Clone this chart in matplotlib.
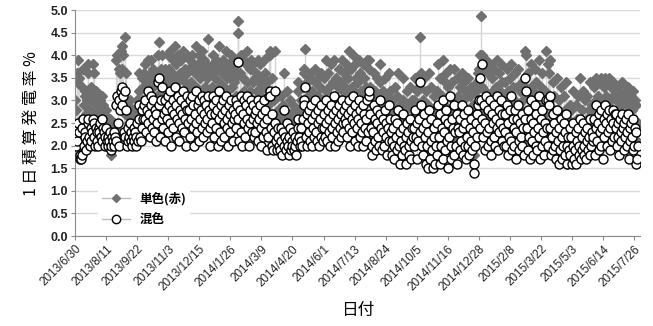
import numpy as np
import pandas as pd
import matplotlib
matplotlib.use('Agg')
import matplotlib.pyplot as plt

plt.rcParams['font.family'] = ['Noto Sans CJK JP', 'DejaVu Sans']

# 日毎の値 (単色(赤) = tan, 混色 = kon), 月ごと
tan_2013_07 = [3.0,2.8,3.6,3.4,3.9,3.5,2.5,2.4,2.4,2.6,3.3,3.7,2.9,3.2,3.1,2.7,3.0,3.6,3.8,3.1,2.8,3.3,3.0,3.2,3.8,3.6,3.1,2.8,3.2,3.1,2.9,2.8]
kon_2013_07 = [2.2,2.0,2.4,2.1,2.5,2.3,1.8,1.7,1.7,1.8,2.4,2.6,2.0,2.3,2.2,1.9,2.1,2.5,2.6,2.2,2.0,2.4,2.1,2.3,2.6,2.5,2.2,2.0,2.4,2.3,2.1,2.0]
tan_2013_08 = [2.8,2.7,3.0,2.6,2.5,3.1,2.9,2.7,2.3,2.5,2.8,2.4,2.5,2.2,2.3,2.6,2.0,1.8,2.3,2.2,2.1,2.5,2.4,2.2,3.9,4.0,3.1,2.2,3.7,3.6,4.1]
kon_2013_08 = [2.4,2.3,2.5,2.2,2.1,2.6,2.4,2.3,2.0,2.2,2.4,2.1,2.2,2.0,2.1,2.3,1.9,2.0,2.2,2.1,2.0,2.3,2.2,2.1,2.9,3.1,2.5,2.0,3.0,2.8,3.2]
tan_2013_09 = [4.2,3.7,4.0,2.9,2.7,4.4,3.6,2.2,2.4,2.9,2.5,3.0,2.6,2.3,2.1,2.5,2.8,2.3,2.7,2.2,2.5,3.0,2.4,3.6,3.2,2.6,2.3,3.5,3.0,3.3]
kon_2013_09 = [3.3,2.9,3.1,2.3,2.2,3.2,2.8,2.0,2.1,2.4,2.2,2.5,2.3,2.1,2.0,2.2,2.4,2.1,2.3,2.0,2.2,2.5,2.1,2.9,2.6,2.2,2.1,2.8,2.4,2.6]
tan_2013_10 = [3.6,3.8,3.3,2.9,3.5,3.9,3.2,3.4,2.7,3.6,3.9,3.0,3.3,3.7,2.8,3.5,3.4,2.5,3.1,4.0,4.3,3.6,2.6,3.7,3.2,4.0,3.0,3.4,2.5,3.7,3.5]
kon_2013_10 = [2.9,3.0,2.6,2.3,2.8,3.2,2.5,2.7,2.2,2.9,3.1,2.4,2.6,3.0,2.3,2.8,2.7,2.1,2.5,3.4,3.5,2.9,2.2,3.0,2.6,3.3,2.4,2.7,2.1,3.0,2.8]
tan_2013_11 = [3.4,4.0,3.0,3.7,4.1,3.3,2.6,3.6,3.9,3.1,3.5,4.2,2.9,3.8,3.4,4.0,3.2,2.7,3.6,3.9,3.1,3.5,4.1,3.0,3.7,3.4,2.6,4.0,3.6,3.3]
kon_2013_11 = [2.6,3.1,2.3,2.9,3.2,2.5,2.0,2.8,3.0,2.4,2.7,3.3,2.2,2.9,2.6,3.1,2.5,2.1,2.8,3.0,2.4,2.7,3.2,2.3,2.9,2.6,2.0,3.1,2.8,2.5]
tan_2013_12 = [3.7,3.9,2.9,3.4,4.0,3.2,3.8,2.6,3.6,4.2,3.3,3.0,3.8,4.0,2.8,3.5,3.7,4.1,3.2,2.9,3.6,3.9,3.3,3.8,3.0,3.5,4.35,3.7,2.6,3.2,3.6]
kon_2013_12 = [2.8,3.0,2.2,2.6,3.1,2.4,2.9,2.0,2.7,3.2,2.5,2.3,2.9,3.0,2.1,2.6,2.8,3.1,2.4,2.2,2.7,3.0,2.5,2.9,2.3,2.6,3.1,2.8,2.0,2.4,2.7]
tan_2014_01 = [3.3,3.8,4.0,2.9,3.5,3.9,3.2,3.7,2.7,3.4,4.2,3.0,3.8,2.8,3.6,3.9,3.3,2.9,3.7,4.1,3.2,3.5,2.6,3.8,3.6,3.0,4.0,3.3,2.8,3.7,3.4]
kon_2014_01 = [2.5,2.9,3.1,2.2,2.7,3.0,2.4,2.8,2.0,2.6,3.2,2.3,2.9,2.1,2.7,3.0,2.5,2.2,2.8,3.1,2.4,2.6,2.0,2.9,2.7,2.3,3.0,2.5,2.1,2.8,2.6]
tan_2014_02 = [3.5,3.9,3.1,3.8,4.75,4.5,2.7,3.6,4.0,3.0,2.6,3.5,3.9,3.2,2.8,3.8,3.4,4.1,3.1,2.5,3.7,3.2,3.9,3.0,3.4,3.8,2.9,3.5]
kon_2014_02 = [2.7,3.0,2.4,2.9,3.85,2.6,2.1,2.8,3.1,2.3,2.0,2.7,3.0,2.5,2.2,2.9,2.6,3.1,2.4,2.0,2.8,2.5,3.0,2.3,2.6,2.9,2.2,2.7]
tan_2014_03 = [3.0,3.6,3.2,3.9,2.7,3.4,3.8,3.1,2.6,3.5,2.8,3.3,3.9,3.6,3.0,2.4,3.4,2.9,4.0,4.1,4.0,3.1,2.6,3.5,2.5,3.0,3.2,4.1,2.7,2.4,3.1]
kon_2014_03 = [2.3,2.8,2.5,3.0,2.1,2.6,2.9,2.4,2.0,2.7,2.2,2.5,3.0,2.8,2.3,1.9,2.6,2.2,3.1,3.2,3.1,2.4,2.0,2.7,1.9,2.3,2.5,3.2,2.1,1.9,2.4]
tan_2014_04 = [2.8,2.5,2.3,3.1,2.6,2.1,2.9,2.4,3.6,2.7,2.2,2.5,3.2,2.4,2.0,2.7,3.0,2.3,2.6,2.4,2.9,2.3,2.8,2.5,2.1,2.6,3.4,3.2,2.8,2.5]
kon_2014_04 = [2.2,2.0,1.9,2.4,2.1,1.8,2.3,2.0,2.8,2.2,1.9,2.1,2.5,2.0,1.8,2.2,2.4,1.9,2.1,2.0,2.3,1.9,2.2,2.0,1.8,2.1,2.6,2.4,2.2,2.0]
tan_2014_05 = [2.5,3.0,2.4,3.3,3.7,3.6,4.15,2.7,3.4,2.4,3.1,3.5,2.8,2.5,3.6,3.2,2.4,3.0,2.7,3.4,3.7,2.9,2.6,3.5,3.1,2.4,3.3,3.6,2.7,3.0,2.6]
kon_2014_05 = [2.1,2.4,2.0,2.6,3.0,2.9,3.3,2.2,2.7,2.0,2.5,2.8,2.3,2.1,2.9,2.6,2.0,2.4,2.2,2.7,3.0,2.3,2.1,2.8,2.5,2.0,2.6,2.9,2.2,2.4,2.1]
tan_2014_06 = [3.0,3.5,2.8,3.9,3.2,2.6,3.6,2.9,3.3,2.5,3.8,3.0,2.8,3.4,3.9,3.1,2.5,3.5,2.9,3.3,2.7,3.7,3.0,3.4,2.8,3.9,3.2,2.9,3.6,3.3]
kon_2014_06 = [2.4,2.7,2.2,3.0,2.5,2.1,2.8,2.3,2.6,2.0,2.9,2.4,2.2,2.7,3.1,2.5,2.0,2.8,2.3,2.6,2.1,2.9,2.4,2.7,2.2,3.0,2.5,2.3,2.8,2.6]
tan_2014_07 = [3.2,3.8,2.8,3.5,4.1,3.1,2.6,3.7,3.3,2.9,4.0,3.2,2.7,3.8,3.5,3.0,2.5,3.4,3.9,2.8,3.6,3.2,2.9,3.8,2.5,3.5,3.1,2.7,3.3,3.9,3.0]
kon_2014_07 = [2.5,2.9,2.2,2.7,3.0,2.4,2.0,2.8,2.6,2.3,3.1,2.5,2.1,2.9,2.7,2.4,2.0,2.6,3.0,2.2,2.8,2.5,2.3,2.9,2.0,2.7,2.4,2.1,2.6,3.0,2.3]
tan_2014_08 = [3.7,3.9,3.3,3.0,2.5,2.2,2.9,3.6,3.2,2.6,2.4,3.1,3.5,2.7,2.5,3.4,3.8,3.0,2.3,3.2,2.8,2.5,3.5,3.1,2.7,2.2,3.0,3.6,2.6,3.2,2.8]
kon_2014_08 = [3.1,3.2,2.7,2.4,2.0,1.8,2.3,2.9,2.6,2.1,1.9,2.5,2.8,2.2,2.0,2.7,3.0,2.4,1.9,2.6,2.3,2.0,2.8,2.5,2.2,1.8,2.4,2.9,2.1,2.6,2.3]
tan_2014_09 = [2.6,2.3,3.0,2.5,2.1,3.3,2.8,2.4,3.1,3.6,2.5,2.0,2.9,2.6,2.2,3.0,3.5,2.5,2.4,2.8,2.0,3.2,2.9,2.3,2.5,3.3,2.6,2.1,3.0,2.8]
kon_2014_09 = [2.1,1.8,2.4,2.0,1.7,2.6,2.2,1.9,2.5,2.8,2.0,1.6,2.3,2.1,1.8,2.4,2.7,2.0,1.9,2.2,1.6,2.5,2.3,1.8,2.0,2.6,2.1,1.7,2.4,2.2]
tan_2014_10 = [3.0,2.5,3.5,2.8,2.1,3.2,2.6,3.3,2.9,4.4,3.6,2.5,2.2,3.0,3.5,2.8,2.0,3.2,2.5,1.9,2.9,3.6,2.1,2.6,3.3,2.4,1.9,3.1,2.8,2.0,2.5]
kon_2014_10 = [2.4,2.0,2.8,2.2,1.7,2.5,2.1,2.6,2.3,3.4,2.9,2.0,1.8,2.4,2.7,2.2,1.6,2.5,2.0,1.5,2.3,2.8,1.7,2.1,2.6,1.9,1.5,2.4,2.2,1.6,2.0]
tan_2014_11 = [3.2,2.3,3.8,2.8,2.0,3.5,2.5,3.1,3.9,2.1,2.9,3.4,2.4,3.6,2.7,1.9,3.3,2.8,3.7,2.5,2.1,3.4,3.0,2.2,3.7,2.9,2.5,3.5,2.0,3.1]
kon_2014_11 = [2.5,1.8,2.9,2.2,1.6,2.7,2.0,2.4,3.0,1.7,2.3,2.6,1.9,2.8,2.1,1.5,2.5,2.2,3.1,2.0,1.7,2.6,2.4,1.8,2.9,2.3,2.0,2.7,1.6,2.4]
tan_2014_12 = [2.9,2.4,3.3,2.7,3.6,2.3,3.0,3.4,2.6,3.2,2.2,2.8,3.5,2.6,2.3,3.1,2.7,3.3,2.4,2.9,2.0,1.8,2.6,3.2,3.4,2.8,3.6,3.7,3.0,4.0,4.88]
kon_2014_12 = [2.3,1.9,2.6,2.1,2.9,1.8,2.4,2.7,2.0,2.5,1.7,2.2,2.8,2.0,1.8,2.4,2.1,2.6,1.9,2.3,1.6,1.4,2.0,2.5,2.7,2.2,2.9,3.0,2.4,3.5,3.0]
tan_2015_01 = [3.3,4.0,2.8,3.7,2.4,3.2,3.9,3.0,2.6,3.6,3.1,3.8,2.7,2.3,3.5,3.2,3.7,2.8,2.5,3.3,3.9,3.0,2.4,3.6,2.9,3.2,3.8,2.7,3.4,3.1,2.6]
kon_2015_01 = [2.6,3.8,2.2,2.9,1.9,2.5,3.1,2.3,2.0,2.8,2.4,3.0,2.1,1.8,2.7,2.5,2.9,2.2,2.0,2.6,3.1,2.4,1.9,2.8,2.3,2.5,3.0,2.1,2.7,2.4,2.0]
tan_2015_02 = [2.9,3.4,2.5,3.7,2.2,3.2,2.8,3.5,3.8,2.6,2.4,3.3,3.0,2.5,3.6,2.1,2.9,3.3,3.7,2.7,2.4,3.2,2.8,3.4,2.5,3.0,2.3,3.3]
kon_2015_02 = [2.3,2.7,2.0,2.9,1.8,2.5,2.2,2.8,3.1,2.1,1.9,2.6,2.4,2.0,2.8,1.7,2.3,2.6,2.9,2.1,1.9,2.5,2.2,2.7,2.0,2.4,1.8,2.6]
tan_2015_03 = [4.1,4.0,3.1,2.4,3.6,2.8,2.1,3.3,3.8,2.7,3.2,2.2,2.9,3.7,2.5,3.4,2.4,3.1,3.9,2.8,2.1,3.3,2.5,3.6,2.9,2.2,3.2,2.7,4.1,3.0,2.5]
kon_2015_03 = [3.5,3.2,2.4,1.9,2.8,2.2,1.7,2.6,3.0,2.1,2.5,1.8,2.3,2.9,2.0,2.7,1.9,2.4,3.1,2.2,1.7,2.6,2.0,2.8,2.3,1.8,2.5,2.1,3.0,2.4,2.0]
tan_2015_04 = [3.8,3.6,3.9,3.0,2.2,2.7,3.4,2.3,3.1,2.4,2.0,2.8,3.5,2.5,1.7,3.0,2.2,3.3,2.6,1.9,2.3,3.1,2.1,2.8,3.4,2.3,1.6,2.6,2.2,2.9]
kon_2015_04 = [3.0,2.9,3.1,2.4,1.8,2.2,2.7,1.9,2.5,2.0,1.7,2.3,2.8,2.1,1.6,2.4,1.9,2.6,2.2,1.7,2.0,2.5,1.8,2.3,2.7,2.0,1.6,2.2,1.9,2.4]
tan_2015_05 = [2.2,2.8,1.9,2.5,3.2,2.0,2.4,2.9,1.8,2.6,3.1,2.2,2.5,3.5,2.0,2.3,2.8,3.2,2.2,2.5,3.0,2.1,2.6,3.1,2.3,2.8,3.4,2.2,2.5,2.9,2.6]
kon_2015_05 = [1.8,2.2,1.6,2.0,2.5,1.7,1.9,2.3,1.6,2.1,2.4,1.8,2.0,2.6,1.7,1.9,2.2,2.5,1.8,2.0,2.3,1.7,2.1,2.4,1.9,2.2,2.6,1.8,2.0,2.3,2.1]
tan_2015_06 = [2.8,3.3,2.3,3.0,3.5,2.6,3.1,2.4,3.4,2.9,2.5,3.5,3.0,2.1,3.3,2.7,3.5,3.1,2.5,3.4,2.9,3.5,2.4,3.0,3.3,2.6,3.4,3.1,2.7,3.3]
kon_2015_06 = [2.2,2.6,1.8,2.4,2.9,2.1,2.5,1.9,2.7,2.3,2.0,2.8,2.4,1.7,2.6,2.2,2.9,2.5,2.0,2.7,2.3,2.8,1.9,2.4,2.6,2.1,2.8,2.5,2.2,2.7]
tan_2015_07 = [3.0,3.3,2.5,3.1,2.8,2.2,3.2,2.9,2.6,3.4,3.0,2.4,3.1,2.7,3.2,2.5,2.9,3.3,2.1,3.0,2.6,3.1,2.8,2.4,3.2,2.5,3.0,2.0,2.9,2.1,2.5]
kon_2015_07 = [2.4,2.7,2.0,2.5,2.2,1.8,2.6,2.3,2.1,2.7,2.4,1.9,2.5,2.2,2.6,2.0,2.3,2.7,1.7,2.4,2.1,2.5,2.2,1.9,2.6,2.0,2.4,1.6,2.3,1.7,2.0]

tan = (tan_2013_07 + tan_2013_08 + tan_2013_09 + tan_2013_10 + tan_2013_11 + tan_2013_12
       + tan_2014_01 + tan_2014_02 + tan_2014_03 + tan_2014_04 + tan_2014_05 + tan_2014_06
       + tan_2014_07 + tan_2014_08 + tan_2014_09 + tan_2014_10 + tan_2014_11 + tan_2014_12
       + tan_2015_01 + tan_2015_02 + tan_2015_03 + tan_2015_04 + tan_2015_05 + tan_2015_06 + tan_2015_07)
kon = (kon_2013_07 + kon_2013_08 + kon_2013_09 + kon_2013_10 + kon_2013_11 + kon_2013_12
       + kon_2014_01 + kon_2014_02 + kon_2014_03 + kon_2014_04 + kon_2014_05 + kon_2014_06
       + kon_2014_07 + kon_2014_08 + kon_2014_09 + kon_2014_10 + kon_2014_11 + kon_2014_12
       + kon_2015_01 + kon_2015_02 + kon_2015_03 + kon_2015_04 + kon_2015_05 + kon_2015_06 + kon_2015_07)

n = min(len(tan), len(kon))
tan = np.array(tan[:n])
kon = np.array(kon[:n])
dates = pd.date_range('2013-06-30', periods=n, freq='D')

# x軸の目盛り (42日おき)
tick_dates = pd.date_range('2013-06-30', '2015-07-26', freq='42D')
tick_labels = [f'{d.year}/{d.month}/{d.day}' for d in tick_dates]

fig = plt.figure(figsize=(6.53, 3.26), dpi=100)
ax = fig.add_axes([0.115, 0.276, 0.865, 0.693])

# 高低線
ax.vlines(dates, np.minimum(tan, kon), np.maximum(tan, kon), color='#d4d4d4', lw=1.0, zorder=1)
ax.plot(dates, tan, ls='none', marker='D', ms=5.5, color='#707070', mec='#707070',
        zorder=2, label='単色(赤)')
ax.plot(dates, kon, ls='none', marker='o', ms=6.5, mfc='white', mec='black', mew=1.0,
        zorder=3, label='混色')

ax.set_ylim(0, 5.0)
ax.set_yticks(np.arange(0, 5.01, 0.5))
ax.set_yticklabels([f'{v:.1f}' for v in np.arange(0, 5.01, 0.5)], fontsize=9,
                   family=['Liberation Sans', 'DejaVu Sans'], fontweight='bold', color='#222222')
ax.set_xlim(pd.Timestamp('2013-06-30'), pd.Timestamp('2015-08-03'))
ax.set_xticks(tick_dates)
ax.set_xticklabels(tick_labels, rotation=45, ha='right', rotation_mode='anchor', fontsize=8.5,
                   family=['Liberation Sans', 'DejaVu Sans'], color='#222222')
ax.grid(axis='y', color='#d9d9d9', lw=1.0)
ax.set_axisbelow(True)
for side in ['top', 'right']:
    ax.spines[side].set_visible(False)
for side in ['left', 'bottom']:
    ax.spines[side].set_color('#8c8c8c')
ax.tick_params(axis='both', length=3, color='#8c8c8c', pad=2)

ax.set_ylabel('1 日 積 算 発 電 率 %', fontsize=11.5, labelpad=8)
ax.set_xlabel('日付', fontsize=12, labelpad=6)

# 凡例 (線つき)
h1, = ax.plot([], [], marker='D', ms=4, color='#bdbdbd', lw=1.0,
              mfc='#707070', mec='#707070')
h2, = ax.plot([], [], marker='o', ms=6, color='#bdbdbd', lw=1.0, mfc='white', mec='black')
leg = ax.legend([h1, h2], ['単色(赤)', '混色'], loc='lower left', bbox_to_anchor=(0.03, 0.0),
                frameon=True, fancybox=False, edgecolor='none', facecolor='white', framealpha=1,
                fontsize=9, handlelength=2.2, borderpad=0.3, labelspacing=0.6)
for t in leg.get_texts():
    t.set_fontweight('bold')

fig.savefig('out.png', dpi=100)
